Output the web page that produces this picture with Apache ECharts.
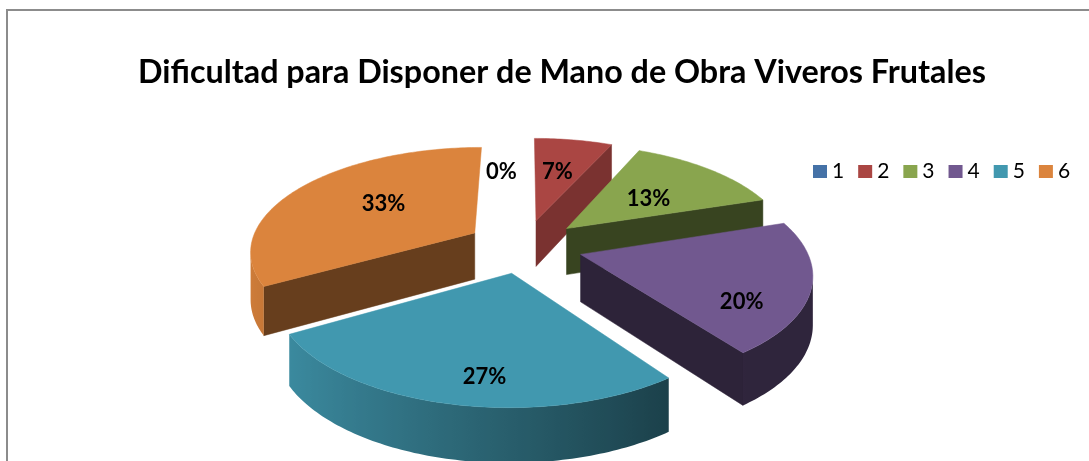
<!DOCTYPE html>
<html>
<head>
<meta charset="utf-8">
<style>
  html, body { margin: 0; padding: 0; background: #fff; }
  #chart { width: 1089px; height: 461px; }
</style>
<script src="https://cdn.jsdelivr.net/npm/echarts@6/dist/echarts.min.js"></script>
</head>
<body>
<div id="chart"></div>
<script>
// datos
var titleText = 'Dificultad para Disponer de Mano de Obra Viveros Frutales'
var categories = ['1', '2', '3', '4', '5', '6']
var percents = [0, 6.67, 13.33, 20, 26.67, 33.33]

// estilo
var colors = ['#4572a7', '#aa4643', '#89a54e', '#71588f', '#4198af', '#db843d']
var wallShade = [0.5, 0.72, 0.41, 0.4, 0.42, 0.47]
var paintOrder = [1, 0, 2, 3, 4, 5] // de atras hacia adelante
var labelAngle = [352.1, 11.4, 49.6, 118.7, 188, 304]
var labelRadius = [0.838, 0.847, 0.785, 1.017, 1.057, 0.811]
var fontName = 'Lato, "Open Sans", sans-serif'

// proyeccion del disco en perspectiva
var view = { cx: 524.3, cy: 246, fx: 224.6, fy: 103, persp: 0.16, depth: 47, depthPersp: 0.12, explode: 0.26 }

function project (x, y, drop) {
  var w = 1 - view.persp * y
  var sy = view.cy + view.fy * y / w
  return [view.cx + view.fx * x / w, sy + (drop ? view.depth / (1 - view.depthPersp * y) : 0)]
}

function dir (deg) {
  var a = deg * Math.PI / 180
  return [Math.sin(a), -Math.cos(a)]
}

function shadeColor (hex, f) {
  var c = echarts.color.parse(hex)
  return 'rgb(' + Math.round(c[0] * f) + ',' + Math.round(c[1] * f) + ',' + Math.round(c[2] * f) + ')'
}

function sliceRange (idx) {
  var sum = percents.reduce(function (a, b) { return a + b }, 0)
  var before = percents.slice(0, idx).reduce(function (a, b) { return a + b }, 0)
  return [before / sum * 360, (before + percents[idx]) / sum * 360]
}

function rimShade (nx) {
  // la luz viene de la izquierda
  var t = Math.min(1, (nx + 1) / 1.6)
  return 0.95 - 0.53 * t
}

function signedArea (quad) {
  var area = 0
  for (var j = 0; j < quad.length; j++) {
    var m = quad[j]
    var n = quad[(j + 1) % quad.length]
    area += m[0] * n[1] - n[0] * m[1]
  }
  return area
}

// borde curvo visible como un solo poligono con degradado horizontal
function rimPolygon (rim, color) {
  var upper = []
  var lower = []
  var shades = []
  for (var i = 0; i < rim.length - 1; i++) {
    var p = rim[i]
    var q = rim[i + 1]
    var a = project(p.x, p.y, false)
    var b = project(q.x, q.y, false)
    var c = project(q.x, q.y, true)
    var e = project(p.x, p.y, true)
    if (signedArea([a, b, c, e]) >= 0) continue
    if (!upper.length) {
      upper.push(a)
      lower.push(e)
      shades.push({ x: a[0], f: rimShade(p.nx) })
    }
    upper.push(b)
    lower.push(c)
    shades.push({ x: b[0], f: rimShade(q.nx) })
  }
  if (upper.length < 2) return null
  var xs = shades.map(function (s) { return s.x })
  var x0 = Math.min.apply(null, xs)
  var x1 = Math.max.apply(null, xs)
  var stops = shades.map(function (s) {
    return { offset: (s.x - x0) / (x1 - x0), color: shadeColor(color, s.f) }
  }).sort(function (s, t) { return s.offset - t.offset })
  return {
    type: 'polygon',
    shape: { points: upper.concat(lower.reverse()) },
    style: { fill: new echarts.graphic.LinearGradient(x0, 0, x1, 0, stops, true) }
  }
}

function drawSlice (idx) {
  var children = []
  var range = sliceRange(idx)
  var color = colors[idx]
  if (percents[idx] > 0) {
    var mid = dir((range[0] + range[1]) / 2)
    var ox = mid[0] * view.explode
    var oy = mid[1] * view.explode
    var apex = { x: ox, y: oy }
    var rim = []
    var steps = Math.max(8, Math.round(range[1] - range[0]))
    for (var i = 0; i <= steps; i++) {
      var d = dir(range[0] + (range[1] - range[0]) * i / steps)
      rim.push({ x: ox + d[0], y: oy + d[1], nx: d[0] })
    }
    // paredes radiales: apex -> inicio y fin -> apex
    var walls = [[apex, rim[0]], [rim[rim.length - 1], apex]]
    walls.forEach(function (w) {
      var quad = [
        project(w[0].x, w[0].y, false),
        project(w[1].x, w[1].y, false),
        project(w[1].x, w[1].y, true),
        project(w[0].x, w[0].y, true)
      ]
      // las caras casi de canto no se dibujan
      if (signedArea(quad) > -1000) return
      var fill = shadeColor(color, wallShade[idx])
      children.push({
        type: 'polygon',
        shape: { points: quad },
        style: { fill: fill, stroke: fill, lineWidth: 0.5 }
      })
    })
    var rimShape = rimPolygon(rim, color)
    if (rimShape) children.push(rimShape)
    var top = [project(apex.x, apex.y, false)].concat(rim.map(function (p) {
      return project(p.x, p.y, false)
    }))
    children.push({
      type: 'polygon',
      shape: { points: top },
      style: { fill: color, stroke: color, lineWidth: 0.5 }
    })
  }
  var ld = dir(labelAngle[idx])
  var lp = project(ld[0] * labelRadius[idx], ld[1] * labelRadius[idx], false)
  children.push({
    type: 'text',
    style: {
      x: lp[0],
      y: lp[1] + 1.5,
      text: Math.round(percents[idx]) + '%',
      fill: '#000',
      font: 'bold 22px ' + fontName,
      align: 'center',
      verticalAlign: 'middle'
    }
  })
  return { type: 'group', children: children }
}

var graph = echarts.init(document.getElementById('chart'), null, { renderer: 'canvas' })

var series = categories.map(function (name, idx) {
  return {
    name: name,
    type: 'custom',
    coordinateSystem: 'none',
    z: 2 + paintOrder.indexOf(idx),
    itemStyle: { color: colors[idx] },
    data: [percents[idx]],
    renderItem: function () {
      return drawSlice(idx)
    },
    animation: false
  }
})

var option = {
  backgroundColor: '#fff',
  animation: false,
  color: colors,
  title: {
    text: titleText,
    left: 557,
    top: 52,
    textAlign: 'center',
    textStyle: { fontFamily: fontName, fontWeight: 'bold', fontSize: 32.3, color: '#000' }
  },
  legend: {
    data: categories,
    left: 808,
    top: 156,
    icon: 'rect',
    itemWidth: 14,
    itemHeight: 13,
    itemGap: 14,
    selectedMode: false,
    textStyle: { fontFamily: fontName, fontSize: 21, color: '#000' }
  },
  graphic: [
    {
      type: 'polyline',
      silent: true,
      shape: { points: [[7, 461], [7, 10], [1089, 10]] },
      style: { fill: 'none', stroke: '#8c8c8c', lineWidth: 2 }
    }
  ],
  series: series
}

graph.setOption(option)
</script>
</body>
</html>
